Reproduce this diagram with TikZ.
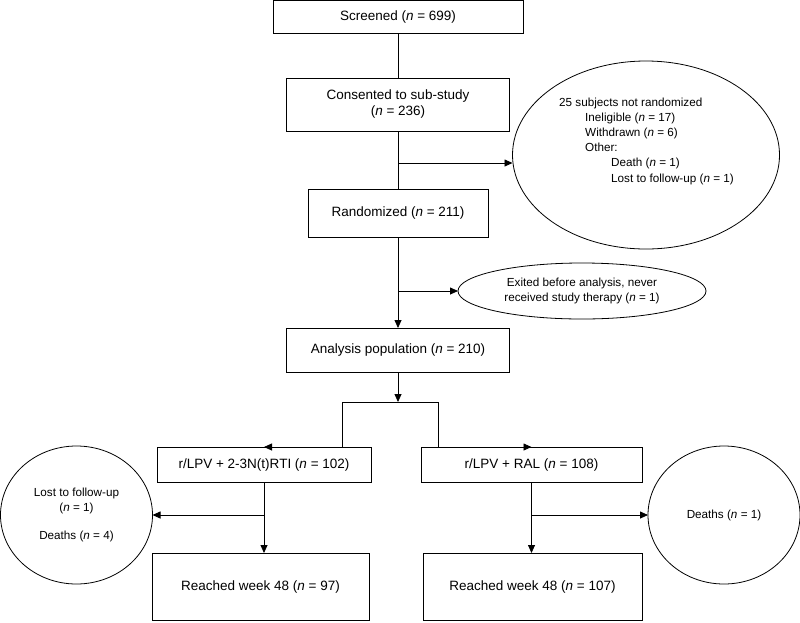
\documentclass[tikz,border=0pt]{standalone}
\usepackage{fontspec}
\setmainfont{Liberation Sans}
\usetikzlibrary{arrows.meta,shapes.geometric}
\begin{document}
\begin{tikzpicture}[x=1pt,y=-1pt,
  every node/.style={inner sep=0pt,outer sep=0pt},
  box/.style={draw,line width=0.8pt,font=\fontsize{13.5}{16}\selectfont,align=center},
  oval/.style={draw,ellipse,line width=0.8pt,font=\fontsize{11.7}{15}\selectfont,align=center},
  small/.style={font=\fontsize{11.7}{15.2}\selectfont,align=left},
  line/.style={line width=0.8pt},
  arr/.style={line width=0.8pt,-{Triangle[length=8pt,width=7pt]}}]
\useasboundingbox (0,0) rectangle (800,622);
% boxes
\node[box,minimum width=250,minimum height=33] (scr) at (398,17) {Screened (\textit{n} = 699)};
\node[box,minimum width=223,minimum height=53] (cons) at (398,104.5) {Consented to sub-study\\(\textit{n} = 236)};
\node[box,minimum width=180,minimum height=48] (rand) at (398,213) {Randomized (\textit{n} = 211)};
\node[box,minimum width=223,minimum height=44] (anal) at (398,350) {Analysis population (\textit{n} = 210)};
\node[box,minimum width=214,minimum height=35] (lt) at (264,464.5) {r/LPV + 2-3N(t)RTI (\textit{n} = 102)};
\node[box,minimum width=221,minimum height=35] (rt) at (531.5,464.5) {r/LPV + RAL (\textit{n} = 108)};
\node[box,minimum width=217,minimum height=67] (lr) at (260.5,586.5) {Reached week 48 (\textit{n} = 97)};
\node[box,minimum width=219,minimum height=67] (rr) at (532.5,586.5) {Reached week 48 (\textit{n} = 107)};
% ovals
\node[oval,minimum width=267,minimum height=188] (ell1) at (646,155) {};
\node[small,anchor=center] (ell1txt) at (646.5,141) {25 subjects not randomized\\
\hspace*{26pt}Ineligible (\textit{n} = 17)\\
\hspace*{26pt}Withdrawn (\textit{n} = 6)\\
\hspace*{26pt}Other:\\
\hspace*{52pt}Death (\textit{n} = 1)\\
\hspace*{52pt}Lost to follow-up (\textit{n} = 1)};
\node[oval,minimum width=248,minimum height=56] (ell2) at (582,291) {Exited before analysis, never\\received study therapy (\textit{n} = 1)};
\node[oval,minimum width=152,minimum height=138] (lc) at (76.5,515) {Lost to follow-up\\(\textit{n} = 1)\\[13pt]Deaths (\textit{n} = 4)};
\node[oval,minimum width=152,minimum height=138] (rc) at (724,515) {Deaths (\textit{n} = 1)};
% coordinates
\coordinate (b1) at (398,163);
\coordinate (b2) at (398,291);
\coordinate (jn) at (398,402);
\coordinate (jl) at (342,447);
\coordinate (jr) at (438,447);
\coordinate (b3) at (264,515);
\coordinate (b4) at (531.5,515);
% connectors
\draw[line] (scr.south) -- (cons.north);
\draw[line] (cons.south) -- (rand.north);
\draw[arr] (b1) -- (b1 -| ell1.west);
\draw[arr] (rand.south) -- (anal.north);
\draw[arr] (b2) -- (ell2.west);
\draw[arr] (anal.south) -- (jn);
\draw[arr] (jn) -- (jn -| jl) -- (jl) -- (lt.north);
\draw[arr] (jn) -- (jn -| jr) -- (jr) -- (rt.north);
\draw[arr] (lt.south) -- (lr.north -| lt.south);
\draw[arr] (b3) -- (lc.east);
\draw[arr] (rt.south) -- (rr.north -| rt.south);
\draw[arr] (b4) -- (rc.west);
\end{tikzpicture}
\end{document}
